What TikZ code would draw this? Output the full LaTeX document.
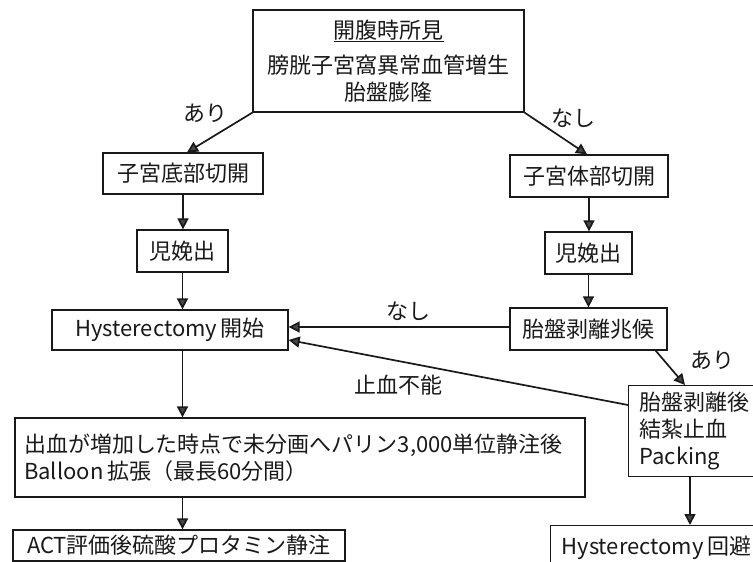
\documentclass[tikz,border=0pt]{standalone}
\usepackage{fontspec}
\setmainfont{Noto Sans CJK JP}
\usetikzlibrary{arrows.meta}
\definecolor{ink}{gray}{0.1}
\definecolor{tipc}{gray}{0.28}
\tikzset{
  box/.style={draw=ink, line width=1.3pt, rectangle, inner sep=0pt, align=center, font=\fontsize{22}{27}\selectfont, text=ink},
  lbl/.style={font=\fontsize{22}{27}\selectfont, text=ink, inner sep=0pt},
  arr/.style={draw=ink, line width=1.7pt, -{Triangle[length=11pt,width=11pt,fill=tipc]}},
}
\begin{document}
\begin{tikzpicture}[x=1pt,y=-1pt]
\useasboundingbox (0,0) rectangle (753,562);
\clip (0,0) rectangle (753,562);
% boxes
\node[box, minimum width=271pt, minimum height=102pt] (top) at (388.5,61)
  {\underline{開腹時所見}\\[8pt]膀胱子宮窩異常血管増生\\胎盤膨隆};
\node[box, minimum width=160pt, minimum height=41pt] (L1) at (183,173.5) {子宮底部切開};
\node[box, minimum width=91pt, minimum height=42pt] (L2) at (182.5,251) {児娩出};
\node[box, minimum width=236pt, minimum height=40pt] (H) at (170,330) {Hysterectomy\,開始};
\node[box, minimum width=158pt, minimum height=42pt] (R1) at (589,176) {子宮体部切開};
\node[box, minimum width=87pt, minimum height=42pt] (R2) at (588.5,253) {児娩出};
\node[box, minimum width=157pt, minimum height=42pt] (R3) at (588.5,329) {胎盤剥離兆候};
\node[box, anchor=north west, minimum width=150pt, minimum height=91pt, text width=128pt, align=left, inner xsep=11pt] (R4) at (628,385)
  {胎盤剥離後\\結紮止血\\Packing};
\node[box, minimum width=570pt, minimum height=79pt, text width=552pt, align=left] (B) at (300,457.5)
  {出血が増加した時点で未分画へパリン3,000単位静注後\\Balloon\,拡張（最長60分間）};
\node[box, minimum width=332pt, minimum height=31pt] (A) at (179,545.5) {ACT評価後硫酸プロタミン静注};
\node[box, anchor=north west, minimum width=230pt, minimum height=45pt, text width=208pt, align=left, inner xsep=11pt] (R5) at (550,525)
  {Hysterectomy\,回避};
% helper coordinate
\coordinate (cx) at (690,0);
% arrows
\draw[arr] (top.south west) -- ([xshift=4pt]L1.north);
\draw[arr] (top.south east) -- ([xshift=-2pt]R1.north);
\draw[arr] (L1.south) -- (L1.south |- L2.north);
\draw[arr] (R1.south) -- (R1.south |- R2.north);
\draw[arr] (L2.south) -- (L2.south |- H.north);
\draw[arr] (R2.south) -- (R2.south |- R3.north);
\draw[arr] ([yshift=2pt]R3.west) -- ([yshift=2pt]R3.west -| H.east);
\draw[arr] ([xshift=-12pt]R3.south east) -- ([xshift=57pt]R4.north west);
\draw[arr] ([yshift=-20pt]R4.north west) -- ([yshift=-10pt]H.east);
\draw[arr] (H.south -| L2.south) -- (B.north -| L2.south);
\draw[arr] (B.south -| L2.south) -- (A.north -| L2.south);
\draw[arr] (cx |- R4.south) -- (cx |- R5.north);
% labels
\node[lbl] (a1) at (205,113) {あり};
\node[lbl] (n1) at (573,118) {なし};
\node[lbl] (n2) at (408,311) {なし};
\node[lbl] (a2) at (712,360) {あり};
\node[lbl] (s1) at (398,385) {止血不能};
\end{tikzpicture}
\end{document}
